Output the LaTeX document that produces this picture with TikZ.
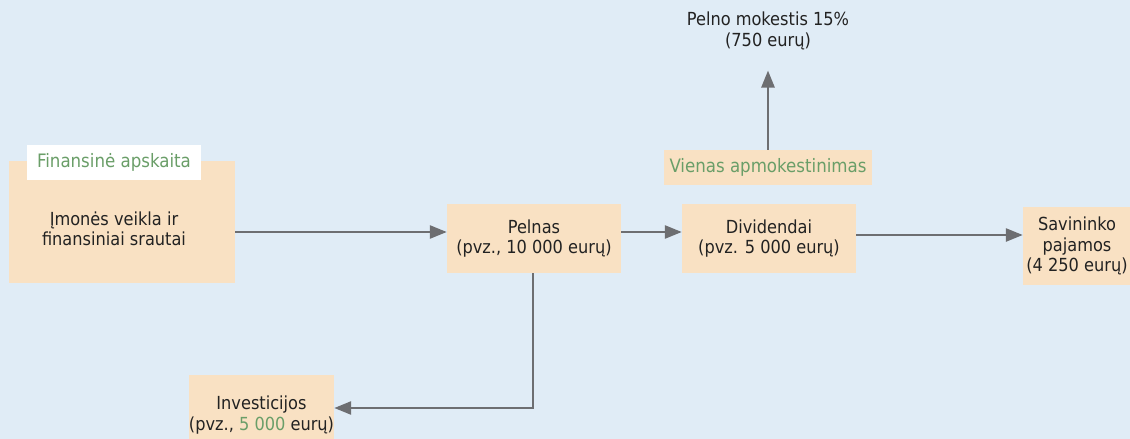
\documentclass[tikz,border=0pt]{standalone}
\usepackage{fontspec}
\setmainfont{DejaVu Sans Condensed}
\usepackage{tikz}
\usepackage{xcolor}
\usetikzlibrary{arrows.meta, positioning}
\definecolor{bgblue}{HTML}{E0ECF6}
\definecolor{boxfill}{HTML}{F9E1C3}
\definecolor{labelgreen}{HTML}{6A9E68}
\definecolor{arrowgray}{HTML}{6D6E71}
\definecolor{textdark}{HTML}{222222}

\begin{document}
\begin{tikzpicture}[x=1pt, y=-1pt,
    box/.style={fill=boxfill, inner sep=0pt, align=center, text=textdark, font=\fontsize{18}{20.5}\selectfont},
    plain/.style={inner sep=0pt, align=center, text=textdark, font=\fontsize{18}{21.5}\selectfont},
    tag/.style={inner sep=0pt, align=center, text=labelgreen, font=\fontsize{18.5}{21}\selectfont},
    arrow/.style={-{Triangle[length=17pt, width=13pt]}, line width=2.6pt, draw=arrowgray}
]

\fill[bgblue] (0,0) rectangle (1130,439);
\useasboundingbox (0,0) rectangle (1130,439);

\node[box, minimum width=226, minimum height=122] (firm) at (122,222) {};
\node[box, fill=none] (firmtext) at (114,229) {Įmonės veikla ir\\finansiniai srautai};
\node[tag, fill=white, minimum width=174, minimum height=35] (accounting) at (114,162.5) {Finansinė apskaita};

\node[box, minimum width=174, minimum height=69] (profit) at (534,238.5) {Pelnas\\(pvz., 10 000 eurų)};

\node[box, minimum width=174, minimum height=69] (dividends) at (769,238.5) {Dividendai\\(pvz. 5 000 eurų)};

\node[box, minimum width=108, minimum height=78] (owner) at (1077,246) {Savininko\\pajamos\\(4 250 eurų)};

\node[box, tag, minimum width=208, minimum height=35] (single) at (768,167.5) {Vienas apmokestinimas};

\node[plain] (tax) at (768,31) {Pelno mokestis 15\%\\(750 eurų)};

\node[box, minimum width=145, minimum height=80] (invest) at (261.5,415) {Investicijos\\(pvz., {\color{labelgreen}5 000} eurų)};

\coordinate (row) at (0,232);
\coordinate (bend) at (533,408);

\draw[arrow] (firm.east |- row) -- (profit.west |- row);
\draw[arrow] (profit.east |- row) -- (dividends.west |- row);
\draw[arrow] ([yshift=3.5pt]dividends.east) -- ([yshift=3.5pt]dividends.east -| owner.west);
\draw[arrow, shorten >=20pt] (single.north) -- (tax.south);
\draw[arrow] (profit.south -| bend) -- (bend) -- (invest.east |- bend);

\end{tikzpicture}
\end{document}
